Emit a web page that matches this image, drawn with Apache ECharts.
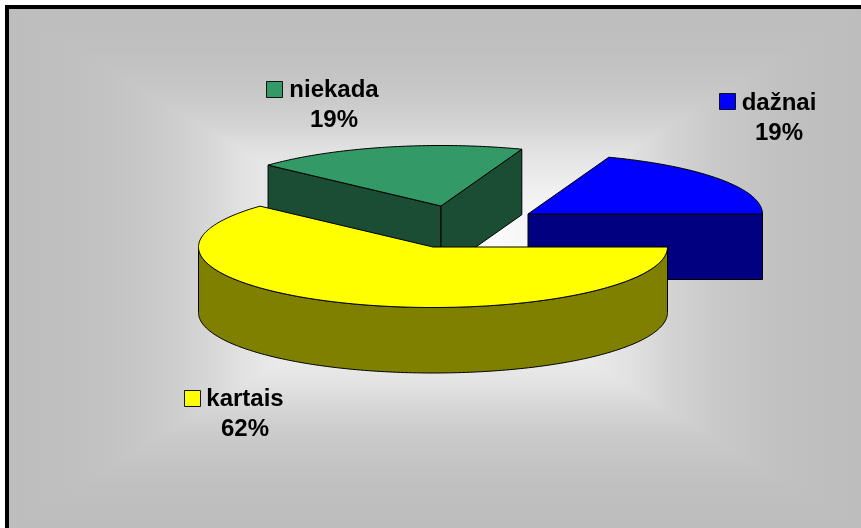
<!DOCTYPE html>
<html>
<head>
<meta charset="utf-8">
<style>html,body{margin:0;padding:0;background:#fff}#c{width:861px;height:528px}</style>
<script src="https://cdn.jsdelivr.net/npm/echarts@6/dist/echarts.min.js"></script>
</head>
<body>
<div id="c"></div>
<script>
// Data
const categories = ['kartais', 'niekada', 'dažnai'];
const values = [61.8, 18.8, 19.4];
const topColors = ['#FFFF00', '#339966', '#0000FF'];
const wallColors = ['#808000', '#1A4D33', '#000080'];

// Layout of each slice (apex of the exploded slice, label anchor, legend-key corner, painter order)
const apexes = [[433, 247], [441, 206], [528, 214]];
const labelAnchors = [[245, 399], [334, 90], [779, 103]];
const keyCorners = [[184.5, 390.5], [266.5, 81.5], [719.5, 93.5]];
const paintOrder = [3, 1, 2];
const RX = 234.5, RY = 60.5, DEPTH = 65.5;

const total = values.reduce((a, b) => a + b, 0);
const rad = d => d * Math.PI / 180;
const FONT = '"Liberation Sans", Arial, sans-serif';

function renderSlice(params, api) {
  const i = params.dataIndex;
  const value = api.value(1);
  let before = 0;
  for (let k = 0; k < i; k++) before += values[k];
  const a0 = before / total * 360, a1 = (before + value) / total * 360;
  const [cx, cy] = apexes[i];
  const pt = (a, dy) => [cx + RX * Math.cos(rad(a)), cy + RY * Math.sin(rad(a)) + (dy || 0)];
  const arc = (s, e, dy) => {
    const out = [], n = Math.max(2, Math.ceil(Math.abs(e - s)));
    for (let k = 0; k <= n; k++) out.push(pt(s + (e - s) * k / n, dy));
    return out;
  };
  const base = paintOrder[i] * 10;
  const lineStyle = { stroke: '#000', lineWidth: 1, lineJoin: 'round' };
  const children = [];
  const poly = (points, fill, z2) => children.push({
    type: 'polygon', z2, shape: { points }, style: Object.assign({ fill }, lineStyle)
  });
  // Cut faces that look towards the viewer
  const wall = a => [[cx, cy], pt(a), pt(a, DEPTH), [cx, cy + DEPTH]];
  if (Math.sin(rad(a0 - 90)) > 0) poly(wall(a0), wallColors[i], base);
  if (Math.sin(rad(a1 + 90)) > 0) poly(wall(a1), wallColors[i], base + 1);
  // Rim: the part of the arc on the front half
  const fs = Math.max(a0, 0), fe = Math.min(a1, 180);
  if (fe > fs) poly(arc(fs, fe).concat(arc(fe, fs, DEPTH)), wallColors[i], base + 2);
  // Top face
  poly([[cx, cy]].concat(arc(a0, a1)), topColors[i], base + 3);

  // Data label with legend key
  const [lx, ly] = labelAnchors[i];
  const [kx, ky] = keyCorners[i];
  const pct = Math.round(value / total * 100) + '%';
  const textStyle = { fill: '#000', fontSize: 24, fontWeight: 'bold', fontFamily: FONT, align: 'center', verticalAlign: 'middle' };
  children.push({ type: 'text', z2: 100, style: Object.assign({ text: categories[i], x: lx, y: ly }, textStyle) });
  children.push({ type: 'text', z2: 100, style: Object.assign({ text: pct, x: lx, y: ly + 30 }, textStyle) });
  children.push({
    type: 'rect', z2: 100,
    shape: { x: kx, y: ky, width: 16, height: 16 },
    style: { fill: topColors[i], stroke: '#111', lineWidth: 1 }
  });
  return { type: 'group', children };
}

// Rectangular ("from centre") background gradient
const W = 861, H = 528, L = 9, T = 9, MX = 435, MY = 268;
const stops = [[0, '#bdbdbd'], [0.16, '#c0c0c0'], [0.25, '#c4c4c4'], [0.35, '#cacaca'], [0.45, '#d4d4d4'], [0.55, '#e2e2e2'], [0.7, '#f0f0f0'], [0.85, '#fafafa'], [1, '#ffffff']]
  .map(s => ({ offset: s[0], color: s[1] }));
const grad = (x, y, x2, y2) => ({ type: 'linear', global: true, x, y, x2, y2, colorStops: stops });
const tri = (points, fill) => ({ type: 'polygon', silent: true, z: 1, shape: { points }, style: { fill } });

const chart = echarts.init(document.getElementById('c'), null, { renderer: 'canvas', width: W, height: H });
chart.setOption({
  animation: false,
  backgroundColor: '#ffffff',
  tooltip: { show: false },
  graphic: { elements: [
    { type: 'rect', silent: true, z: 0, shape: { x: L, y: T, width: MX - L, height: H - T }, style: { fill: grad(L, 0, MX, 0) } },
    { type: 'rect', silent: true, z: 0, shape: { x: MX, y: T, width: W - MX, height: H - T }, style: { fill: grad(W, 0, MX, 0) } },
    tri([[L, T], [W, T], [MX, MY]], grad(0, T, 0, MY)),
    tri([[L, H], [W, H], [MX, MY]], grad(0, H, 0, MY)),
    { type: 'rect', silent: true, z: 1, shape: { x: 5, y: 5, width: 4, height: H - 5 }, style: { fill: '#000' } },
    { type: 'rect', silent: true, z: 1, shape: { x: 5, y: 5, width: W - 5, height: 4 }, style: { fill: '#000' } }
  ] },
  series: [{
    type: 'custom',
    coordinateSystem: 'none',
    z: 5,
    silent: true,
    renderItem: renderSlice,
    data: values.map((v, i) => ({ name: categories[i], value: [i, v] }))
  }]
});
</script>
</body>
</html>
